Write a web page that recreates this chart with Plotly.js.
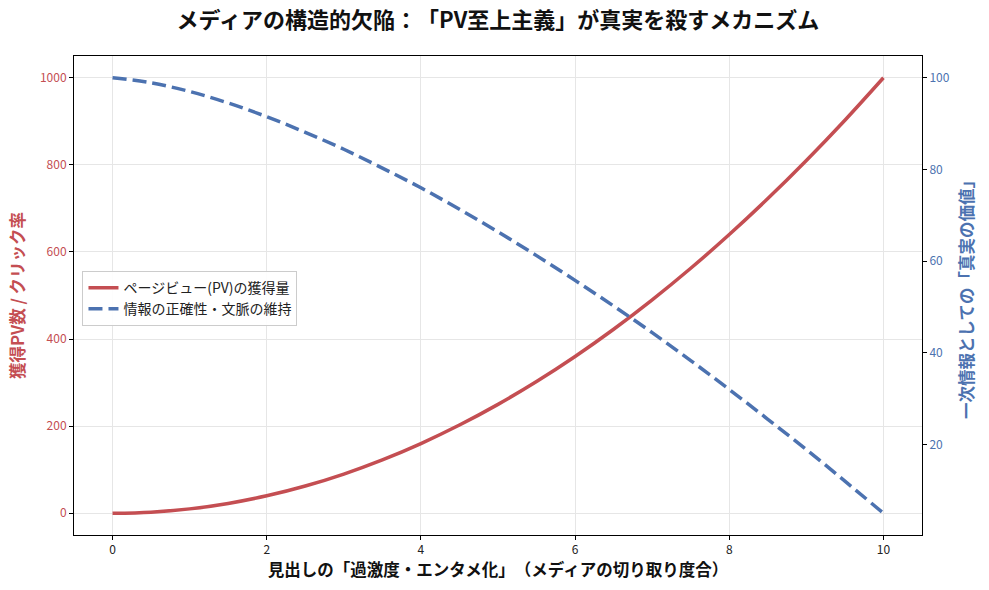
<!DOCTYPE html>
<html>
<head>
<meta charset="utf-8">
<script src="https://cdn.plot.ly/plotly-3.0.1.min.js"></script>
<style>
  body { margin: 0; background: #fff; }
  #chart { width: 989px; height: 590px; }
  #chart text { text-spacing-trim: space-all; }
</style>
</head>
<body>
<div id="chart"></div>
<script>
// Sensationalism level (x axis)
var levels = [0, 0.5, 1, 1.5, 2, 2.5, 3, 3.5, 4, 4.5, 5, 5.5, 6, 6.5, 7, 7.5, 8, 8.5, 9, 9.5, 10]

// Page views gained (left axis)
var pageviews = [0, 2.5, 10, 22.5, 40, 62.5, 90, 122.5, 160, 202.5, 250, 302.5, 360, 422.5, 490, 562.5, 640, 722.5, 810, 902.5, 1000]

// Value of truth as primary information (right axis)
var truth = [100, 98.9, 97.0, 94.5, 91.5, 88.1, 84.4, 80.3, 76.0, 71.3, 66.4, 61.2, 55.8, 50.2, 44.4, 38.3, 32.0, 25.5, 18.9, 12.0, 5]

var leftTicks = [0, 200, 400, 600, 800, 1000]
var rightTicks = [20, 40, 60, 80, 100]
var xTicks = [0, 2, 4, 6, 8, 10]

var red = '#c44e52'
var blue = '#4c72b0'
var font = 'Noto Sans CJK JP, Noto Sans, sans-serif'

var tracePV = {
  x: levels,
  y: pageviews,
  name: 'ページビュー(PV)の獲得量',
  mode: 'lines',
  line: {color: red, width: 3.5, shape: 'spline'},
  type: 'scatter'
}

var traceTruth = {
  x: levels,
  y: truth,
  name: '情報の正確性・文脈の維持',
  mode: 'lines',
  yaxis: 'y2',
  line: {color: blue, width: 3.5, dash: '14px,6px', shape: 'spline'},
  type: 'scatter'
}

var layout = {
  width: 989,
  height: 590,
  margin: {l: 74, r: 67, t: 56, b: 55},
  paper_bgcolor: '#fff',
  plot_bgcolor: '#fff',
  font: {family: font, size: 12, color: '#222'},
  title: {
    text: '<b>メディアの構造的欠陥：「PV至上主義」が真実を殺すメカニズム</b>',
    font: {family: font, size: 22, color: '#111'},
    xref: 'paper',
    x: 0.5,
    y: 0.965,
    yanchor: 'middle'
  },
  xaxis: {
    range: [-0.5, 10.5],
    tickvals: xTicks,
    ticks: 'outside',
    ticklen: 4,
    tickcolor: '#000',
    tickfont: {size: 12, color: '#222'},
    showline: true,
    linecolor: '#000',
    linewidth: 1,
    mirror: true,
    showgrid: true,
    gridcolor: '#e6e6e6',
    zeroline: false,
    title: {
      text: '<b>見出しの「過激度・エンタメ化」（メディアの切り取り度合）</b>',
      font: {family: font, size: 16.5, color: '#111'},
      standoff: 5
    }
  },
  yaxis: {
    range: [-50, 1050],
    tickvals: leftTicks,
    ticks: 'outside',
    ticklen: 4,
    tickcolor: '#000',
    tickfont: {size: 12, color: red},
    showline: true,
    linecolor: '#000',
    linewidth: 1,
    showgrid: true,
    gridcolor: '#e6e6e6',
    zeroline: false,
    title: {
      text: '<b>獲得PV数 / クリック率</b>',
      font: {family: font, size: 16.5, color: red},
      standoff: 11
    }
  },
  yaxis2: {
    overlaying: 'y',
    side: 'right',
    range: [0.25, 104.75],
    tickvals: rightTicks,
    ticks: 'outside',
    ticklen: 4,
    tickcolor: '#000',
    tickfont: {size: 12, color: blue},
    showline: true,
    linecolor: '#000',
    linewidth: 1,
    showgrid: false,
    zeroline: false,
    title: {
      text: '<b>一次情報としての「真実の価値」</b>',
      font: {family: font, size: 16.5, color: blue},
      standoff: 12
    }
  },
  showlegend: true,
  legend: {
    x: 0.01,
    y: 0.551,
    xanchor: 'left',
    yanchor: 'top',
    bgcolor: 'rgba(255,255,255,0.9)',
    bordercolor: '#cccccc',
    borderwidth: 1,
    font: {family: font, size: 14, color: '#222'}
  }
}

Plotly.newPlot('chart', [tracePV, traceTruth], layout, {displayModeBar: false})
</script>
</body>
</html>
